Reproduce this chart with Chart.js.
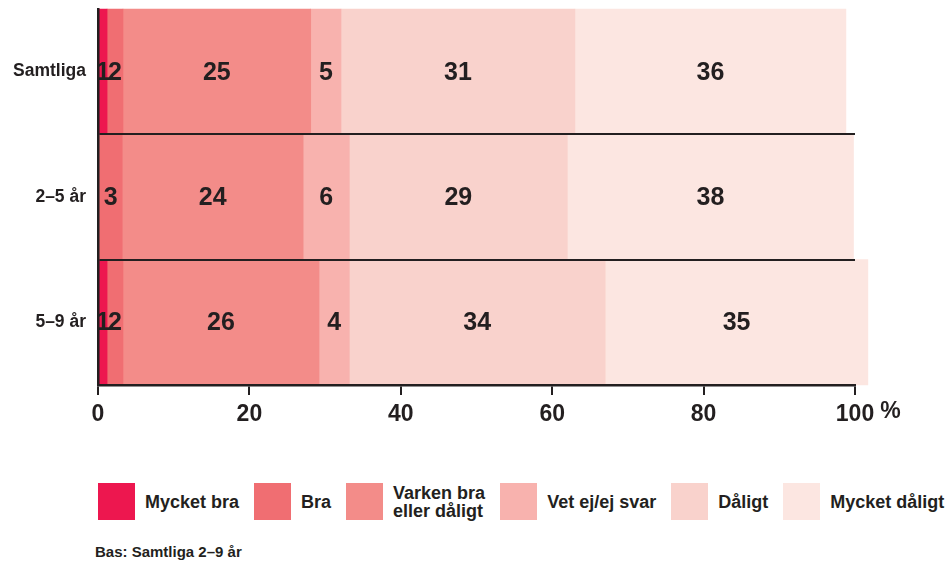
<!DOCTYPE html>
<html>
<head>
<meta charset="utf-8">
<script src="https://cdn.jsdelivr.net/npm/chart.js@4/dist/chart.umd.min.js"></script>
<style>
  body { margin: 0; background: #fff; }
  #wrap { position: relative; width: 951px; height: 565px; font-family: 'Liberation Sans', Arial, sans-serif; color: #231f20; overflow: hidden; }
  #c { position: absolute; left: 0; top: 0; }
  #legend { position: absolute; left: 98px; top: 483px; display: flex; align-items: center; width: max-content; }
  .item { display: flex; align-items: center; margin-right: 15px; flex-shrink: 0; }
  .box { width: 37px; height: 37px; margin-right: 10px; flex-shrink: 0; }
  .txt { font-weight: bold; font-size: 18px; line-height: 18px; white-space: pre; }
  #bas { position: absolute; left: 95px; top: 543px; font-weight: bold; font-size: 15px; }
</style>
</head>
<body>
<div id="wrap">
  <canvas id="c" width="951" height="440"></canvas>
  <div id="legend"></div>
  <div id="bas">Bas: Samtliga 2–9 år</div>
</div>
<script>
const categories = ['Samtliga', '2–5 år', '5–9 år'];
const seriesNames = ['Mycket bra', 'Bra', 'Varken bra\neller dåligt', 'Vet ej/ej svar', 'Dåligt', 'Mycket dåligt'];
const colors = ['#ED174F', '#F06E72', '#F38C89', '#F8B2AE', '#F9D2CC', '#FCE6E1'];

// values per answer, one entry per category (Samtliga, 2–5, 5–9)
const mycketBra = [1.2, 0, 1.2];
const bra = [2.1, 3.2, 2.1];
const varken = [24.8, 23.9, 25.9];
const vetEj = [4.0, 6.1, 4.0];
const daligt = [30.9, 28.8, 33.8];
const mycketDaligt = [35.8, 37.8, 34.7];

// printed numbers in the bars
const labelsMycketBra = ['1', '', '1'];
const labelsBra = ['2', '3', '2'];
const labelsVarken = ['25', '24', '26'];
const labelsVetEj = ['5', '6', '4'];
const labelsDaligt = ['31', '29', '34'];
const labelsMycketDaligt = ['36', '38', '35'];

const xTicks = [0, 20, 40, 60, 80, 100];

const values = [mycketBra, bra, varken, vetEj, daligt, mycketDaligt];
const printed = [labelsMycketBra, labelsBra, labelsVarken, labelsVetEj, labelsDaligt, labelsMycketDaligt];
const ink = '#231f20';
const font = "'Liberation Sans', Arial, sans-serif";

const barLabels = {
  id: 'barLabels',
  afterDatasetsDraw(chart) {
    const ctx = chart.ctx;
    ctx.save();
    ctx.fillStyle = ink;
    ctx.font = 'bold 25px ' + font;
    ctx.textAlign = 'center';
    ctx.textBaseline = 'middle';
    chart.data.datasets.forEach((ds, i) => {
      chart.getDatasetMeta(i).data.forEach((el, j) => {
        const t = printed[i][j];
        if (!t) return;
        const p = el.getCenterPoint();
        ctx.fillText(t, p.x, p.y + 1);
      });
    });
    ctx.restore();
  },
  afterDraw(chart) {
    // the "%" after the last tick
    const ctx = chart.ctx;
    const sx = chart.scales.x;
    ctx.save();
    ctx.font = "bold 23px 'Liberation Sans Narrow', " + font;
    ctx.fillStyle = ink;
    ctx.textBaseline = 'middle';
    const x = sx.getPixelForValue(100) + ctx.measureText('100').width / 2 + 6;
    ctx.fillText('%', x, 412);
    ctx.restore();
  }
};

const ctx = document.getElementById('c').getContext('2d');
window.myBar = new Chart(ctx, {
  type: 'bar',
  data: {
    labels: categories,
    datasets: seriesNames.map((name, i) => ({
      label: name,
      data: values[i],
      backgroundColor: colors[i],
      borderWidth: 0,
      barPercentage: 1,
      categoryPercentage: 1,
      clip: false,
    })),
  },
  options: {
    indexAxis: 'y',
    responsive: false,
    animation: false,
    layout: { padding: { top: 9, right: 96, left: 0, bottom: 0 } },
    plugins: { legend: { display: false }, tooltip: { enabled: false } },
    scales: {
      x: {
        stacked: true,
        min: 0,
        max: 100,
        afterFit: (s) => { s.height = 55; s.paddingLeft = 0; s.paddingRight = 0; },
        afterBuildTicks: (s) => { s.ticks = xTicks.map((v) => ({ value: v })); },
        grid: { drawOnChartArea: false, drawTicks: true, tickLength: 10, color: ink, lineWidth: 2, z: 1 },
        border: { display: true, color: ink, width: 2.5, z: 1 },
        ticks: {
          color: ink,
          padding: 6,
          font: { family: "'Liberation Sans Narrow', 'Liberation Sans', sans-serif", size: 23, weight: 'bold' },
        },
      },
      y: {
        stacked: true,
        afterFit: (s) => { s.width = 98; s.paddingTop = 0; s.paddingBottom = 0; },
        grid: {
          offset: true,
          drawTicks: false,
          lineWidth: 2,
          z: 1,
          color: (c) => (c.index === 0 ? 'rgba(0,0,0,0)' : ink),
        },
        border: { display: true, color: ink, width: 2.5, z: 1 },
        ticks: {
          color: ink,
          padding: 12,
          font: { family: font, size: 17.5, weight: 'bold' },
        },
      },
    },
  },
  plugins: [barLabels],
});

const legend = document.getElementById('legend');
seriesNames.forEach((name, i) => {
  legend.innerHTML += `<div class="item">
    <div class="box" style="background:${colors[i]}"></div>
    <div class="txt">${name}</div>
    </div>`;
});
</script>
</body>
</html>
